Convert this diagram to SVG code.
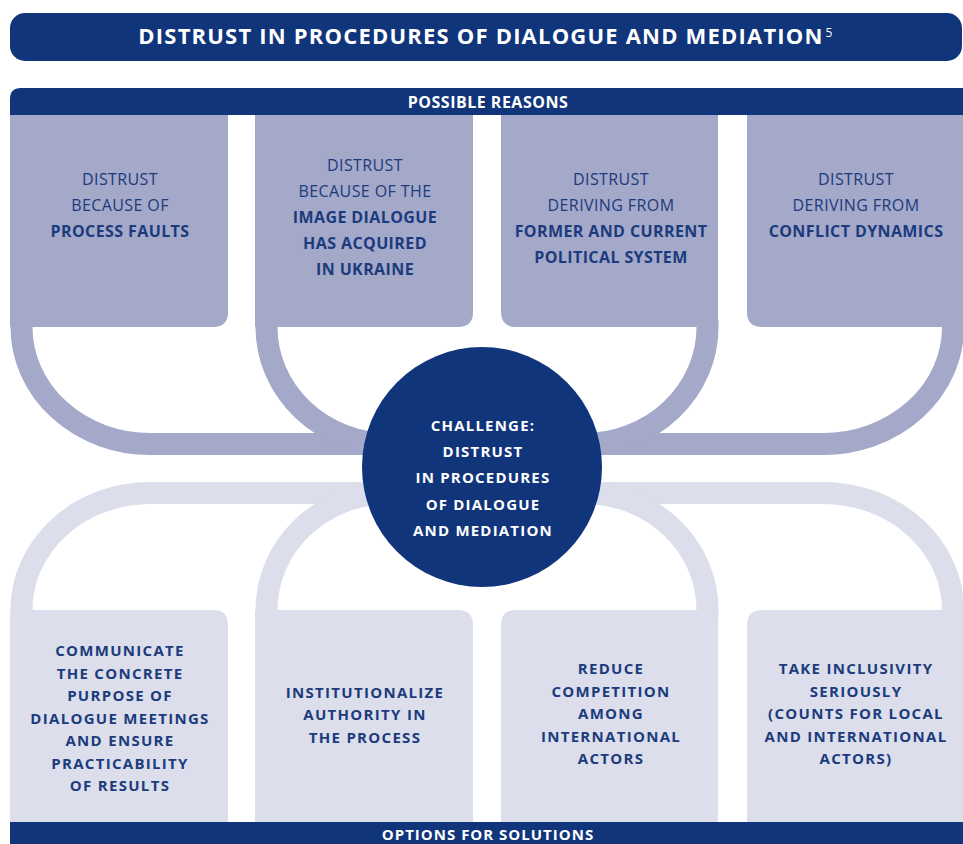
<svg xmlns="http://www.w3.org/2000/svg" width="963" height="844" viewBox="0 0 963 844">
<style>
.navy{fill:#10357A}
.top{fill:#A4A8C9}
.bot{fill:#DCDEEB}
.bandT{fill:none;stroke:#A4A8C9;stroke-width:22}
.bandB{fill:none;stroke:#DCDEEB;stroke-width:22}
text{font-family:"Open Sans","Liberation Sans",sans-serif;text-anchor:middle}
.hdr{fill:#fff;font-weight:700}
.t{fill:#1B3B7D;font-size:16px;letter-spacing:0.4px}
.b{font-weight:700}
.s{fill:#1B3B7D;font-size:15px;font-weight:700;letter-spacing:1.3px}
.c{fill:#fff;font-size:15px;font-weight:700;letter-spacing:1.2px}
</style>
<rect width="963" height="844" fill="#fff"/>
<g id="title">
<rect class="navy" x="10" y="13" width="952" height="48" rx="15"/>
<text class="hdr" x="481" y="44" font-size="22" letter-spacing="1.2">DISTRUST IN PROCEDURES OF DIALOGUE AND MEDIATION</text>
<text x="829" y="37" font-size="12" fill="#fff" text-anchor="middle">5</text>
</g>
<g id="reasons-bar">
<path class="navy" d="M10 115 V99 Q10 88 21 88 H963 V115 Z"/>
<text class="hdr" x="488" y="108" font-size="16" letter-spacing="0.5">POSSIBLE REASONS</text>
</g>
<g id="connectors">
<path class="bandT" d="M21.5 320 V327 A128.5 117 0 0 0 150 444 H823 A130 117 0 0 0 953 327 V320"/>
<path class="bandT" d="M266.5 320 V327 A123.5 117 0 0 0 390 444"/>
<path class="bandT" d="M707.5 320 V327 A123.5 117 0 0 1 584 444"/>
<path class="bandB" d="M21.5 617 V610 A128.5 117 0 0 1 150 493 H823 A130 117 0 0 1 953 610 V617"/>
<path class="bandB" d="M266.5 617 V610 A123.5 117 0 0 1 390 493"/>
<path class="bandB" d="M707.5 617 V610 A123.5 117 0 0 0 584 493"/>
</g>
<g id="reason1">
<path class="top" d="M10 115 H228 V312 Q228 327 213 327 H10 Z"/>
<text class="t" x="120" y="185">DISTRUST</text>
<text class="t" x="120" y="211">BECAUSE OF</text>
<text class="t b" x="120" y="237">PROCESS FAULTS</text>
</g>
<g id="reason2">
<path class="top" d="M255 115 H473 V312 Q473 327 458 327 H255 Z"/>
<text class="t" x="365" y="171">DISTRUST</text>
<text class="t" x="365" y="197">BECAUSE OF THE</text>
<text class="t b" x="365" y="223">IMAGE DIALOGUE</text>
<text class="t b" x="365" y="249">HAS ACQUIRED</text>
<text class="t b" x="365" y="275">IN UKRAINE</text>
</g>
<g id="reason3">
<path class="top" d="M501 115 H718 V327 H516 Q501 327 501 312 Z"/>
<text class="t" x="611" y="185">DISTRUST</text>
<text class="t" x="611" y="211">DERIVING FROM</text>
<text class="t b" x="611" y="237">FORMER AND CURRENT</text>
<text class="t b" x="611" y="263">POLITICAL SYSTEM</text>
</g>
<g id="reason4">
<path class="top" d="M747 115 H963 V327 H762 Q747 327 747 312 Z"/>
<text class="t" x="856" y="185">DISTRUST</text>
<text class="t" x="856" y="211">DERIVING FROM</text>
<text class="t b" x="856" y="237">CONFLICT DYNAMICS</text>
</g>
<g id="challenge">
<circle class="navy" cx="482" cy="467" r="120"/>
<text class="c" x="483" y="431">CHALLENGE:</text>
<text class="c" x="483" y="457">DISTRUST</text>
<text class="c" x="483" y="483">IN PROCEDURES</text>
<text class="c" x="483" y="510">OF DIALOGUE</text>
<text class="c" x="483" y="536">AND MEDIATION</text>
</g>
<g id="solution1">
<path class="bot" d="M10 610 H213 Q228 610 228 625 V822 H10 Z"/>
<text class="s" x="120" y="656">COMMUNICATE</text>
<text class="s" x="120" y="679">THE CONCRETE</text>
<text class="s" x="120" y="701">PURPOSE OF</text>
<text class="s" x="120" y="724">DIALOGUE MEETINGS</text>
<text class="s" x="120" y="746">AND ENSURE</text>
<text class="s" x="120" y="769">PRACTICABILITY</text>
<text class="s" x="120" y="791">OF RESULTS</text>
</g>
<g id="solution2">
<path class="bot" d="M255 610 H458 Q473 610 473 625 V822 H255 Z"/>
<text class="s" x="365" y="698">INSTITUTIONALIZE</text>
<text class="s" x="365" y="720">AUTHORITY IN</text>
<text class="s" x="365" y="743">THE PROCESS</text>
</g>
<g id="solution3">
<path class="bot" d="M516 610 H718 V822 H501 V625 Q501 610 516 610 Z"/>
<text class="s" x="611" y="674">REDUCE</text>
<text class="s" x="611" y="697">COMPETITION</text>
<text class="s" x="611" y="719">AMONG</text>
<text class="s" x="611" y="742">INTERNATIONAL</text>
<text class="s" x="611" y="764">ACTORS</text>
</g>
<g id="solution4">
<path class="bot" d="M762 610 H963 V822 H747 V625 Q747 610 762 610 Z"/>
<text class="s" x="856" y="674">TAKE INCLUSIVITY</text>
<text class="s" x="856" y="697">SERIOUSLY</text>
<text class="s" x="856" y="719">(COUNTS FOR LOCAL</text>
<text class="s" x="856" y="742">AND INTERNATIONAL</text>
<text class="s" x="856" y="764">ACTORS)</text>
</g>
<g id="solutions-bar">
<rect class="navy" x="10" y="822" width="953" height="22"/>
<text class="hdr" x="488" y="840" font-size="15" letter-spacing="1">OPTIONS FOR SOLUTIONS</text>
</g>
</svg>
